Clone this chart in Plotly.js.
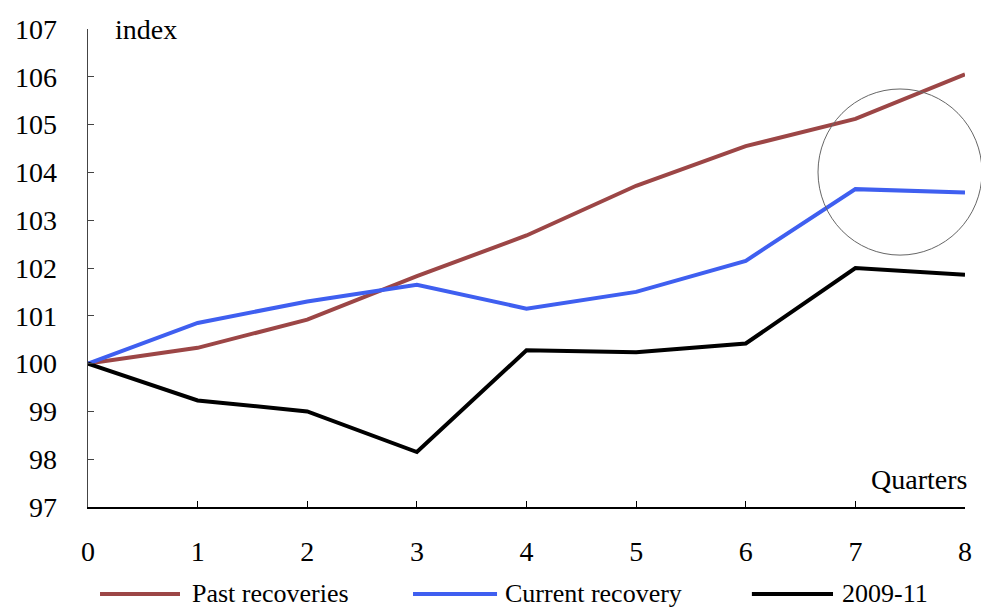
<!DOCTYPE html>
<html>
<head>
<meta charset="utf-8">
<script src="https://cdn.plot.ly/plotly-3.0.1.min.js"></script>
<style>html,body{margin:0;padding:0;background:#fff;}#chart{width:981px;height:610px;}</style>
</head>
<body>
<div id="chart"></div>
<script>
const quarters = [0, 1, 2, 3, 4, 5, 6, 7, 8];
const pastRecoveries = [100, 100.33, 100.92, 101.83, 102.68, 103.72, 104.55, 105.12, 106.05];
const currentRecovery = [100, 100.85, 101.3, 101.65, 101.15, 101.5, 102.15, 103.65, 103.58];
const period2009_11 = [100, 99.23, 99.0, 98.15, 100.28, 100.24, 100.42, 102.0, 101.86];
const seriesNames = ["Past recoveries", "Current recovery", "2009-11"];
const seriesColors = ["#9c4646", "#3f5ff0", "#000000"];
const yTicks = [97, 98, 99, 100, 101, 102, 103, 104, 105, 106, 107];
const xTicks = [0, 1, 2, 3, 4, 5, 6, 7, 8];

const font = {family: "Liberation Serif", size: 28, color: "#000"};
const legendFont = {family: "Liberation Serif", size: 26, color: "#000"};
const seriesValues = [pastRecoveries, currentRecovery, period2009_11];

const traces = seriesValues.map((vals, i) => ({
  x: quarters, y: vals, type: "scatter", mode: "lines", name: seriesNames[i],
  line: {color: seriesColors[i], width: 4}, showlegend: false
}));

// manual legend (long line samples as in the reference)
const legendLineX = [[0.0137, 0.1049], [0.3706, 0.4664], [0.757, 0.8495]];
const legendTextX = [0.1163, 0.4732, 0.8575];
const legendY = -0.182;
const shapes = legendLineX.map((p, i) => ({
  type: "line", xref: "paper", yref: "paper", x0: p[0], x1: p[1], y0: legendY, y1: legendY,
  line: {color: seriesColors[i], width: 4}
}));
shapes.push({type: "circle", xref: "paper", yref: "paper", x0: 0.8324, x1: 1.0194, y0: 0.527, y1: 0.8745,
  line: {color: "#666", width: 1}});

const annotations = seriesNames.map((n, i) => ({
  text: n, xref: "paper", yref: "paper", x: legendTextX[i], y: legendY, xanchor: "left", yanchor: "middle",
  showarrow: false, font: legendFont
}));
annotations.push({text: "index", xref: "paper", yref: "paper", x: 0.029, y: 1.0, xanchor: "left", yanchor: "middle", showarrow: false, font: font});
annotations.push({text: "Quarters", xref: "paper", yref: "paper", x: 1.005, y: 0.058, xanchor: "right", yanchor: "middle", showarrow: false, font: font});

const layout = {
  width: 981, height: 610,
  margin: {l: 88, r: 16, t: 29, b: 103},
  paper_bgcolor: "#fff", plot_bgcolor: "#fff",
  font: font,
  showlegend: false,
  xaxis: {range: [0, 8], tickvals: xTicks, ticktext: xTicks.map(String), showgrid: false, zeroline: false,
    showline: true, linecolor: "#000", linewidth: 2, ticks: "inside", ticklen: 6, tickcolor: "#000", tickwidth: 1,
    ticklabelstandoff: 18, tickfont: font},
  yaxis: {range: [97, 107], tickvals: yTicks, ticktext: yTicks.map(String), showgrid: false, zeroline: false,
    showline: true, linecolor: "#444", linewidth: 1.5, ticks: "inside", ticklen: 6, tickcolor: "#444", tickwidth: 1,
    ticklabelstandoff: 24, tickfont: font},
  shapes: shapes,
  annotations: annotations
};

Plotly.newPlot("chart", traces, layout, {staticPlot: true, displayModeBar: false});
</script>
</body>
</html>
